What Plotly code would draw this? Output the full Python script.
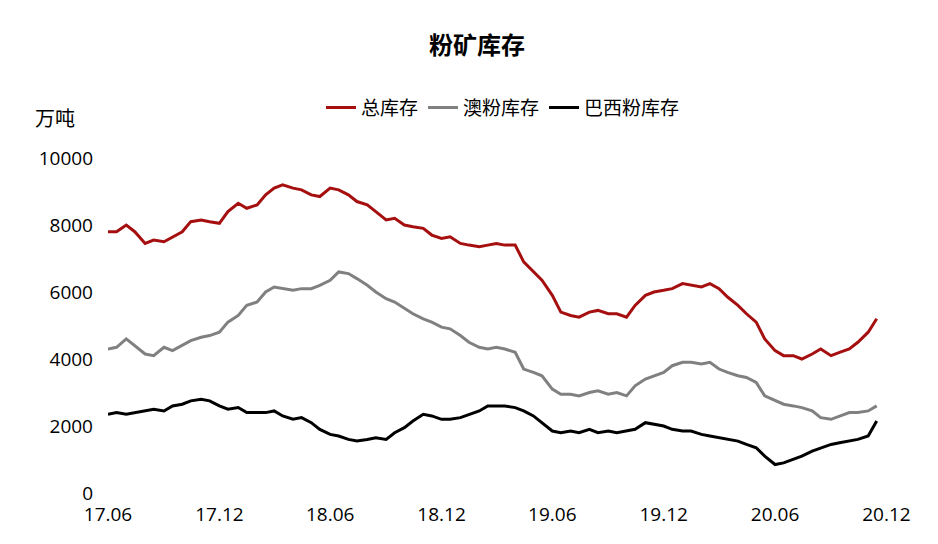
import pandas as pd
import plotly.graph_objects as go

dates = pd.date_range("2017-06-01", periods=84, freq="SMS")
total = [7800,7800,8000,7800,7450,7550,7500,7650,7800,8100,8150,8100,8050,8400,8650,8500,8600,8900,9100,9200,
         9100,9050,8900,8850,9100,9050,8900,8700,8600,8400,8150,8200,8000,7950,7900,7700,7600,7650,7450,7400,
         7350,7400,7450,7400,7400,6900,6600,6350,5900,5400,5300,5250,5400,5450,5350,5350,5250,5600,5900,6000,
         6050,6100,6250,6200,6150,6250,6100,5850,5600,5350,5100,4600,4250,4100,4100,4000,4150,4300,4100,4200,
         4300,4500,4800,5200]
aus = [4300,4350,4600,4400,4150,4100,4350,4250,4400,4550,4650,4700,4800,5100,5300,5600,5700,6000,6150,6100,
       6050,6100,6100,6200,6350,6600,6550,6400,6200,6000,5800,5700,5500,5350,5200,5100,4950,4900,4700,4500,
       4350,4300,4350,4300,4200,3700,3600,3500,3100,2950,2950,2900,3000,3050,2950,3000,2900,3200,3400,3500,
       3600,3800,3900,3900,3850,3900,3700,3600,3500,3450,3300,2900,2750,2650,2600,2550,2450,2250,2200,2300,
       2400,2400,2450,2600]
bra = [2350,2400,2350,2400,2450,2500,2450,2600,2650,2750,2800,2750,2600,2500,2550,2400,2400,2400,2450,2300,
       2200,2250,2100,1900,1750,1700,1600,1550,1600,1650,1600,1800,1950,2150,2350,2300,2200,2200,2250,2350,
       2450,2600,2600,2600,2550,2450,2300,2100,1850,1800,1850,1800,1900,1800,1850,1800,1850,1900,2100,2050,
       2000,1900,1850,1850,1750,1700,1650,1600,1550,1450,1350,1100,850,900,1000,1100,1250,1350,1450,1500,
       1550,1600,1700,2150]
names = ["总库存", "澳粉库存", "巴西粉库存"]
colors = ["#A50F0F", "#808080", "#000000"]
tickvals = ["2017-06-01","2017-12-01","2018-06-01","2018-12-01","2019-06-01","2019-12-01","2020-06-01","2020-12-01"]
ticktext = ["17.06","17.12","18.06","18.12","19.06","19.12","20.06","20.12"]

fig = go.Figure()
for n, s, c in zip(names, [total, aus, bra], colors):
    fig.add_trace(go.Scatter(x=dates, y=s, name=n, mode="lines", line=dict(color=c, width=3)))
fig.update_layout(
    width=938, height=544, plot_bgcolor="white", paper_bgcolor="white",
    font=dict(family="Open Sans, Noto Sans CJK SC", size=19, color="black"),
    title=dict(text="<b>粉矿库存</b>", x=0.5, y=0.93, yanchor="middle", xanchor="center",
               font=dict(size=24, family="Noto Sans CJK SC")),
    margin=dict(l=100, r=48, t=150, b=59),
    legend=dict(orientation="h", x=0.5, xanchor="center", y=1.15, yanchor="middle",
                font=dict(size=19, family="Noto Sans CJK SC")),
    xaxis=dict(range=["2017-06-01","2020-12-20"], tickvals=tickvals, ticktext=ticktext, showgrid=False,
               showline=False, zeroline=False, ticks="", ticklabelstandoff=8),
    yaxis=dict(range=[0, 10000], dtick=2000, tickformat="d", showgrid=False, showline=False,
               zeroline=False, ticks="", ticklabelstandoff=14),
    annotations=[dict(text="万吨", xref="paper", yref="paper", x=-0.095, y=1.12, showarrow=False,
                      xanchor="left", yanchor="middle", font=dict(size=20, family="Noto Sans CJK SC"))],
)
fig.write_html("out.html")
